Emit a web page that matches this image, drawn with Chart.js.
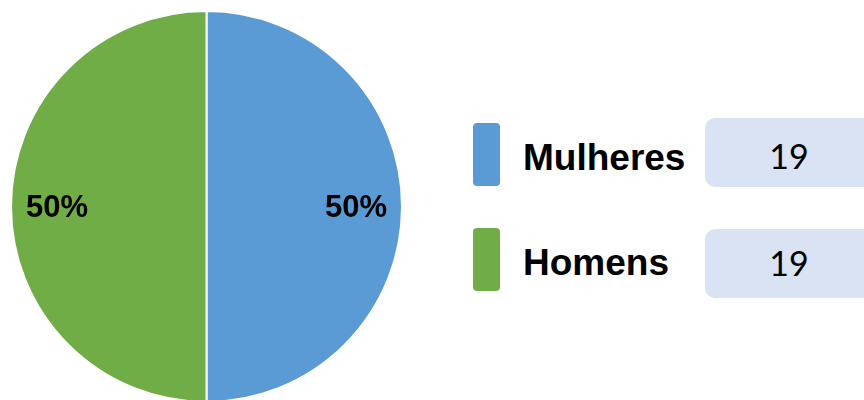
<!DOCTYPE html>
<html>
<head>
<meta charset="utf-8">
<script src="https://cdn.jsdelivr.net/npm/chart.js@4"></script>
<style>
  html, body { margin: 0; padding: 0; background: #fff; overflow: hidden; }
  body { width: 864px; height: 400px; position: relative; }
  #pieBox { position: absolute; left: 0; top: 0; width: 413px; height: 413px; }
  .swatch { position: absolute; left: 473px; width: 27px; height: 63px; border-radius: 4px; }
  .name { position: absolute; left: 523px; font: bold 37px "Liberation Sans", Arial, sans-serif; line-height: 37px; color: #000; white-space: nowrap; }
  .count { position: absolute; left: 705px; width: 168px; height: 69px; border-radius: 10px; background: #dae3f3; }
  .count span { position: absolute; left: 0; right: 0; text-align: center; font: 34px Lato, "Open Sans", sans-serif; line-height: 34px; color: #000; }
</style>
</head>
<body>
<div id="pieBox"><canvas id="pie"></canvas></div>
<div id="legend"></div>
<script>
const labels = ["Mulheres", "Homens"];
const counts = [19, 19];
const colors = ["#5b9bd5", "#70ad47"];

// legend rows: swatch, name, count box
const rowTops = [123, 228];
const legend = document.getElementById("legend");
labels.forEach((name, i) => {
  const top = rowTops[i];
  legend.insertAdjacentHTML("beforeend",
    `<div class="swatch" style="top:${top}px;background:${colors[i]}"></div>` +
    `<div class="name" style="top:${top + 16}px">${name}</div>` +
    `<div class="count" style="top:${top - 5 + i * 6}px"><span style="top:${21 - i * 4}px">${counts[i]}</span></div>`);
});

// percentage labels drawn on top of the slices
const pctLabels = {
  id: "pctLabels",
  afterDatasetsDraw(chart) {
    const ctx = chart.ctx;
    const meta = chart.getDatasetMeta(0);
    const total = counts.reduce((a, b) => a + b, 0);
    ctx.save();
    ctx.font = "bold 31px 'Liberation Sans', Arial, sans-serif";
    ctx.fillStyle = "#000";
    ctx.textAlign = "center";
    ctx.textBaseline = "middle";
    meta.data.forEach((arc, i) => {
      const mid = (arc.startAngle + arc.endAngle) / 2;
      const r = arc.outerRadius * 0.765;
      const x = arc.x + Math.cos(mid) * r;
      const y = arc.y + Math.sin(mid) * r + 2;
      ctx.fillText(Math.round(counts[i] / total * 100) + "%", x, y);
    });
    ctx.restore();
  }
};

new Chart(document.getElementById("pie"), {
  type: "pie",
  data: {
    labels: labels,
    datasets: [{
      data: counts,
      backgroundColor: colors,
      borderColor: "#ffffff",
      borderWidth: 2
    }]
  },
  options: {
    responsive: true,
    maintainAspectRatio: false,
    animation: false,
    layout: { padding: 10 },
    plugins: {
      legend: { display: false },
      tooltip: { enabled: false }
    }
  },
  plugins: [pctLabels]
});
</script>
</body>
</html>
